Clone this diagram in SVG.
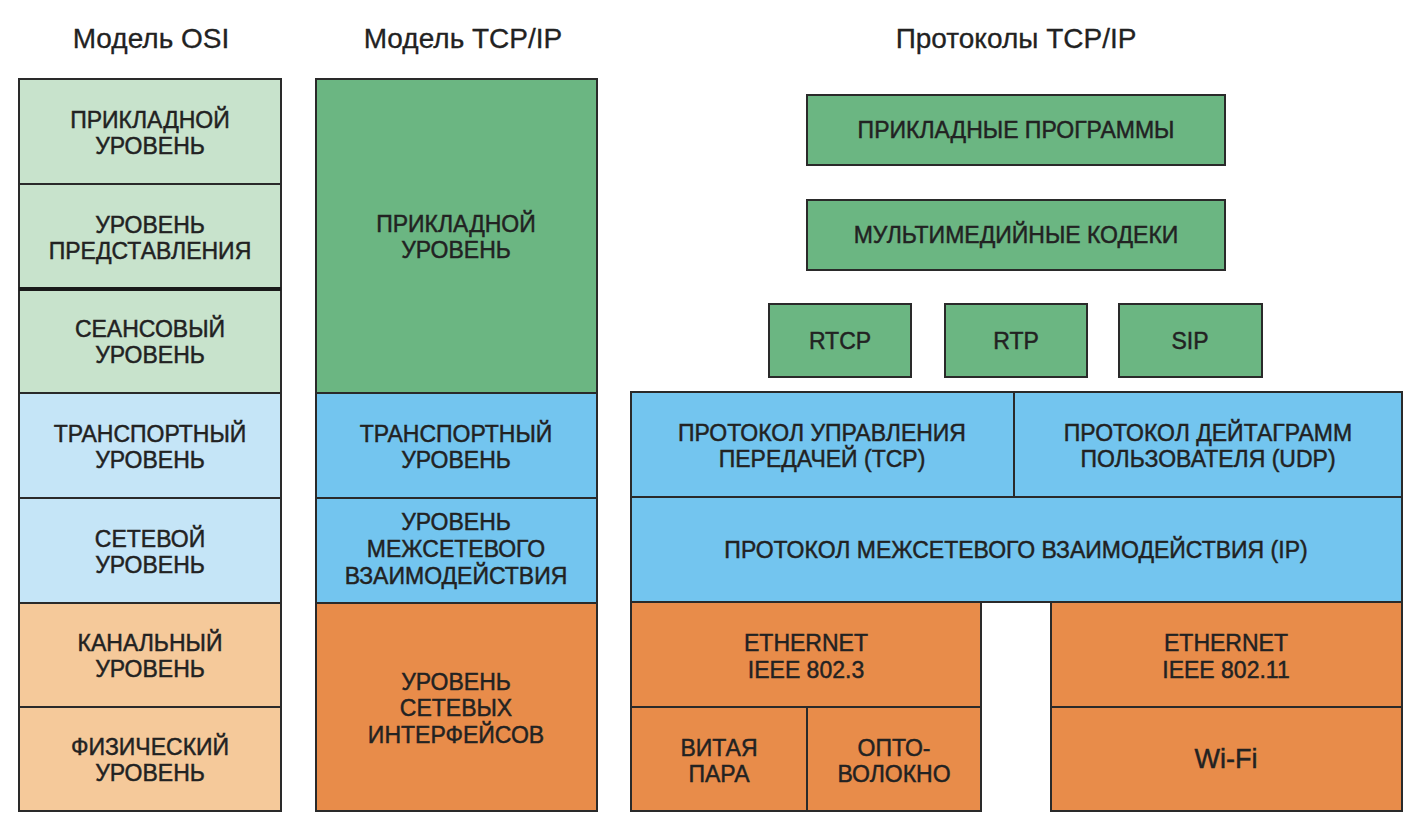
<svg xmlns="http://www.w3.org/2000/svg" width="1412" height="820" viewBox="0 0 1412 820">
<style>
.t{font-family:"Liberation Sans",Arial,sans-serif;font-size:23px;fill:#222;stroke:#222;stroke-width:0.45;text-anchor:middle}
.h{font-family:"Liberation Sans",Arial,sans-serif;font-size:28px;fill:#222;stroke:#222;stroke-width:0.3;text-anchor:middle}
.box{stroke:#2a2a2a;stroke-width:2}
.lg{fill:#c8e3cc}.lb{fill:#c5e5f7}.lo{fill:#f5c99a}
.g{fill:#6bb682}.b{fill:#73c5ef}.o{fill:#e88c4a}
</style>
<g id="titles">
<text class="h" x="151" y="48">Модель OSI</text>
<text class="h" x="463" y="48">Модель TCP/IP</text>
<text class="h" x="1016" y="48">Протоколы TCP/IP</text>
</g>
<g id="osi">
<g id="osi-app"><rect class="box lg" x="19" y="79" width="262" height="105"/><text class="t" x="150" y="128">ПРИКЛАДНОЙ</text><text class="t" x="150" y="154">УРОВЕНЬ</text></g>
<g id="osi-pres"><rect class="box lg" x="19" y="184" width="262" height="105"/><text class="t" x="150" y="233">УРОВЕНЬ</text><text class="t" x="150" y="259">ПРЕДСТАВЛЕНИЯ</text></g>
<g id="osi-sess"><rect class="box lg" x="19" y="289" width="262" height="104"/><text class="t" x="150" y="337">СЕАНСОВЫЙ</text><text class="t" x="150" y="363">УРОВЕНЬ</text></g>
<g id="osi-trans"><rect class="box lb" x="19" y="393" width="262" height="105"/><text class="t" x="150" y="442">ТРАНСПОРТНЫЙ</text><text class="t" x="150" y="468">УРОВЕНЬ</text></g>
<g id="osi-net"><rect class="box lb" x="19" y="498" width="262" height="105"/><text class="t" x="150" y="547">СЕТЕВОЙ</text><text class="t" x="150" y="573">УРОВЕНЬ</text></g>
<g id="osi-link"><rect class="box lo" x="19" y="603" width="262" height="104"/><text class="t" x="150" y="651">КАНАЛЬНЫЙ</text><text class="t" x="150" y="677">УРОВЕНЬ</text></g>
<g id="osi-phys"><rect class="box lo" x="19" y="707" width="262" height="104"/><text class="t" x="150" y="755">ФИЗИЧЕСКИЙ</text><text class="t" x="150" y="781">УРОВЕНЬ</text></g>
<line x1="19" y1="289" x2="281" y2="289" stroke="#1a1a1a" stroke-width="4"/>
</g>
<g id="tcpmodel">
<g id="m-app"><rect class="box g" x="316" y="79" width="281" height="314"/><text class="t" x="456" y="232">ПРИКЛАДНОЙ</text><text class="t" x="456" y="258">УРОВЕНЬ</text></g>
<g id="m-trans"><rect class="box b" x="316" y="393" width="281" height="105"/><text class="t" x="456" y="442">ТРАНСПОРТНЫЙ</text><text class="t" x="456" y="468">УРОВЕНЬ</text></g>
<g id="m-inet"><rect class="box b" x="316" y="498" width="281" height="105"/><text class="t" x="456" y="530">УРОВЕНЬ</text><text class="t" x="456" y="557">МЕЖСЕТЕВОГО</text><text class="t" x="456" y="584">ВЗАИМОДЕЙСТВИЯ</text></g>
<g id="m-if"><rect class="box o" x="316" y="603" width="281" height="208"/><text class="t" x="456" y="690">УРОВЕНЬ</text><text class="t" x="456" y="716">СЕТЕВЫХ</text><text class="t" x="456" y="743">ИНТЕРФЕЙСОВ</text></g>
</g>
<g id="protocols">
<g id="p-apps"><rect class="box g" x="807" y="95" width="418" height="70"/><text class="t" x="1016" y="138">ПРИКЛАДНЫЕ ПРОГРАММЫ</text></g>
<g id="p-codecs"><rect class="box g" x="807" y="200" width="418" height="70"/><text class="t" x="1016" y="243">МУЛЬТИМЕДИЙНЫЕ КОДЕКИ</text></g>
<g id="p-rtcp"><rect class="box g" x="769" y="304" width="142" height="73"/><text class="t" x="840" y="349">RTCP</text></g>
<g id="p-rtp"><rect class="box g" x="945" y="304" width="142" height="73"/><text class="t" x="1016" y="349">RTP</text></g>
<g id="p-sip"><rect class="box g" x="1119" y="304" width="143" height="73"/><text class="t" x="1190" y="349">SIP</text></g>
<g id="p-tcp"><rect class="box b" x="631" y="392" width="383" height="105"/><text class="t" x="822" y="441">ПРОТОКОЛ УПРАВЛЕНИЯ</text><text class="t" x="822" y="467">ПЕРЕДАЧЕЙ (TCP)</text></g>
<g id="p-udp"><rect class="box b" x="1014" y="392" width="388" height="105"/><text class="t" x="1208" y="441">ПРОТОКОЛ ДЕЙТАГРАММ</text><text class="t" x="1208" y="467">ПОЛЬЗОВАТЕЛЯ (UDP)</text></g>
<g id="p-ip"><rect class="box b" x="631" y="497" width="771" height="105"/><text class="t" x="1016" y="558">ПРОТОКОЛ МЕЖСЕТЕВОГО ВЗАИМОДЕЙСТВИЯ (IP)</text></g>
<g id="p-eth3"><rect class="box o" x="631" y="602" width="350" height="105"/><text class="t" x="806" y="651">ETHERNET</text><text class="t" x="806" y="678">IEEE 802.3</text></g>
<g id="p-twisted"><rect class="box o" x="631" y="707" width="176" height="104"/><text class="t" x="719" y="756">ВИТАЯ</text><text class="t" x="719" y="782">ПАРА</text></g>
<g id="p-fiber"><rect class="box o" x="807" y="707" width="174" height="104"/><text class="t" x="894" y="756">ОПТО-</text><text class="t" x="894" y="782">ВОЛОКНО</text></g>
<g id="p-eth11"><rect class="box o" x="1051" y="602" width="351" height="105"/><text class="t" x="1226" y="651">ETHERNET</text><text class="t" x="1226" y="678">IEEE 802.11</text></g>
<g id="p-wifi"><rect class="box o" x="1051" y="707" width="351" height="104"/><text class="t" x="1226" y="768" style="font-size:27px">Wi-Fi</text></g>
</g>
</svg>
